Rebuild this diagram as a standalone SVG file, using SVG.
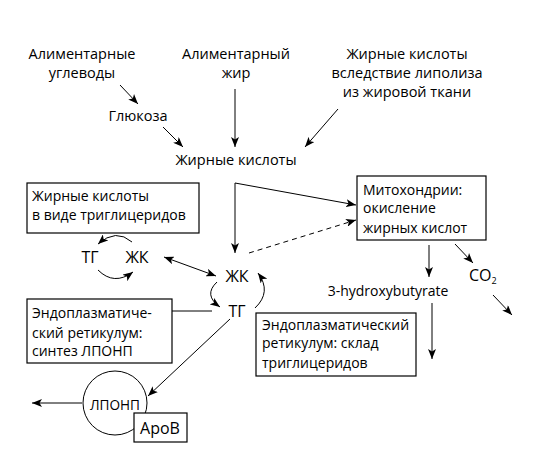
<svg xmlns="http://www.w3.org/2000/svg" width="547" height="452" viewBox="0 0 547 452">
<defs>
<marker id="ah" viewBox="0 0 10 8" refX="10" refY="4" markerWidth="10" markerHeight="8" markerUnits="userSpaceOnUse" orient="auto-start-reverse">
<path d="M0,0 L10,4 L0,8 L2.5,4 Z" fill="#000"/>
</marker>
</defs>
<style>
text{font-family:"Open Sans","Noto Sans","DejaVu Sans",sans-serif;font-size:14px;fill:#000}
.c{text-anchor:middle}
.t{font-size:14.5px}
.b{font-size:16px}
.box{fill:#fff;stroke:#000;stroke-width:1.2}
.ln{fill:none;stroke:#000;stroke-width:1}
.ar{fill:none;stroke:#000;stroke-width:1;marker-end:url(#ah)}
</style>
<rect width="547" height="452" fill="#fff"/>
<g id="connectors">
<path class="ar" d="M120,85 L138,104"/>
<path class="ar" d="M163,127 L183,147"/>
<path class="ar" d="M235,89 L235,147"/>
<path class="ar" d="M338,109 L305,147"/>
<path class="ar" d="M235,183 L235,253"/>
<path class="ar" d="M235,183 L356,205"/>
<path class="ar" d="M249,253 L356,220" stroke-dasharray="5,4"/>
<path class="ar" d="M132,242 Q116,228 98,244"/>
<path class="ar" d="M98,270 Q114,286 133,272"/>
<path class="ar" d="M164,257 L216,276" style="marker-start:url(#ah)"/>
<path class="ar" d="M217,282 Q203,295 220,307"/>
<path class="ar" d="M255,308 Q272,292 258,273"/>
<path class="ln" d="M172,311 L212,311"/>
<path class="ar" d="M230,319 L148,396"/>
<path class="ar" d="M82,403 L32,403"/>
<path class="ar" d="M429,245 L429,277"/>
<path class="ar" d="M455,244 L473,263"/>
<path class="ar" d="M493,295 L512,315"/>
<path class="ar" d="M432,303 L432,359"/>
</g>
<g id="n-alim-ugl"><text class="c t" x="82" y="59">Алиментарные</text><text class="c t" x="82" y="78">углеводы</text></g>
<g id="n-alim-zhir"><text class="c t" x="236" y="59">Алиментарный</text><text class="c t" x="236" y="78">жир</text></g>
<g id="n-lipoliz"><text class="c t" x="407" y="59">Жирные кислоты</text><text class="c t" x="407" y="78">вследствие липолиза</text><text class="c t" x="407" y="97">из жировой ткани</text></g>
<g id="n-glukoza"><text class="c t" x="138" y="121">Глюкоза</text></g>
<g id="n-zhk-top"><text class="c t" x="236" y="165">Жирные кислоты</text></g>
<g id="n-box-tg"><rect class="box" x="27" y="183" width="172" height="50"/><text x="32" y="201">Жирные кислоты</text><text x="32" y="220">в виде триглицеридов</text></g>
<g id="n-tg1"><text class="c b" x="90" y="263">ТГ</text></g>
<g id="n-zhk1"><text class="c b" x="137" y="263">ЖК</text></g>
<g id="n-zhk2"><text class="c b" x="237" y="282">ЖК</text></g>
<g id="n-tg2"><text class="c b" x="237" y="317">ТГ</text></g>
<g id="n-mito"><rect class="box" x="357" y="176" width="129" height="64"/><text x="363" y="195">Митохондрии:</text><text x="363" y="213">окисление</text><text x="363" y="233">жирных кислот</text></g>
<g id="n-hb"><text class="c" x="388" y="296" font-size="15.5">3-hydroxybutyrate</text></g>
<g id="n-co2"><text class="b" x="469" y="281">CO<tspan font-size="9" dy="3">2</tspan></text></g>
<g id="n-er1"><rect class="box" x="27" y="299" width="145" height="64"/><text x="32" y="318">Эндоплазматиче-</text><text x="32" y="338">ский ретикулум:</text><text x="32" y="356">синтез ЛПОНП</text></g>
<g id="n-er2"><rect class="box" x="256" y="313" width="160" height="63"/><text x="262" y="330">Эндоплазматический</text><text x="262" y="348">ретикулум: склад</text><text x="262" y="368">триглицеридов</text></g>
<g id="n-lponp"><circle cx="115" cy="403" r="32" fill="#fff" stroke="#000" stroke-width="1"/><text class="c" x="115" y="410" font-size="15" textLength="50" lengthAdjust="spacingAndGlyphs">ЛПОНП</text></g>
<g id="n-apob"><rect class="box" x="134" y="413" width="53" height="29"/><text class="c b" x="160" y="434">ApoB</text></g>
</svg>
